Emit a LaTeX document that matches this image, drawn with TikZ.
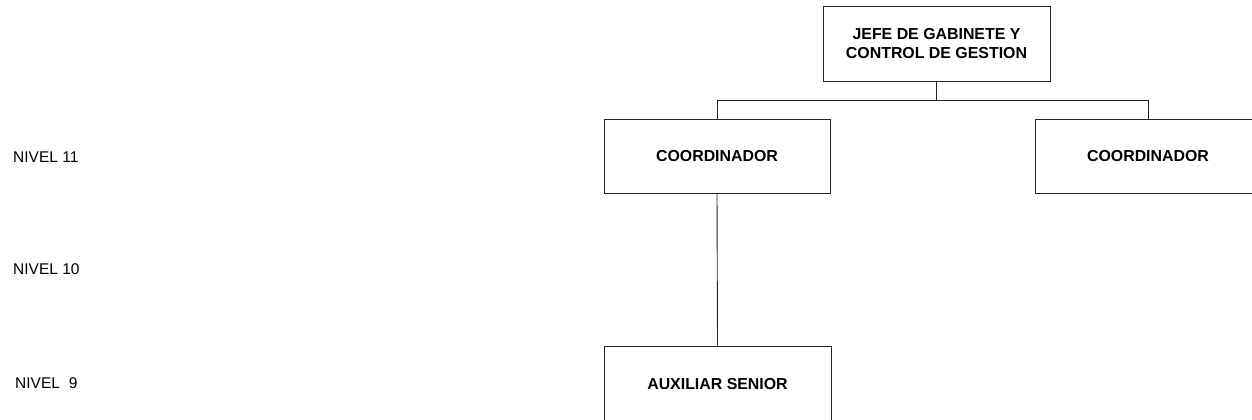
\documentclass[tikz,border=0pt]{standalone}
\usepackage{fontspec}
\setmainfont{Liberation Sans}
\begin{document}
\begin{tikzpicture}[x=1pt,y=-1pt,
  box/.style={draw=black!85, line width=0.9pt, inner sep=0pt, minimum width=226pt, minimum height=74pt,
    align=center, font=\fontsize{15.9}{18.5}\selectfont\bfseries},
  lvl/.style={anchor=west, inner sep=0pt, font=\fontsize{15.5}{18}\selectfont},
  wire/.style={draw=black!85, line width=0.9pt}]
\useasboundingbox (0,0) rectangle (1252,420);
\node[box, minimum width=227pt, minimum height=75pt] (top) at (936.5,43.5) {JEFE DE GABINETE Y\\CONTROL DE GESTION};
\node[box] (lc) at (717,156) {COORDINADOR};
\node[box] (rc) at (1148,156) {COORDINADOR};
\node[box, minimum width=227pt, minimum height=76pt] (aux) at (717.5,384) {AUXILIAR SENIOR};
\coordinate (bus) at (936.5,100);
\draw[wire] (top.south) -- (bus);
\draw[wire] (bus) -| (lc.north);
\draw[wire] (bus) -| (rc.north);
\draw[wire] (lc.south) -- (aux.north);
\node[lvl] (n11) at (13,157) {NIVEL 11};
\node[lvl] (n10) at (13,269) {NIVEL 10};
\node[lvl] (n9) at (15,383) {NIVEL\hspace{9pt}9};
\end{tikzpicture}
\end{document}
